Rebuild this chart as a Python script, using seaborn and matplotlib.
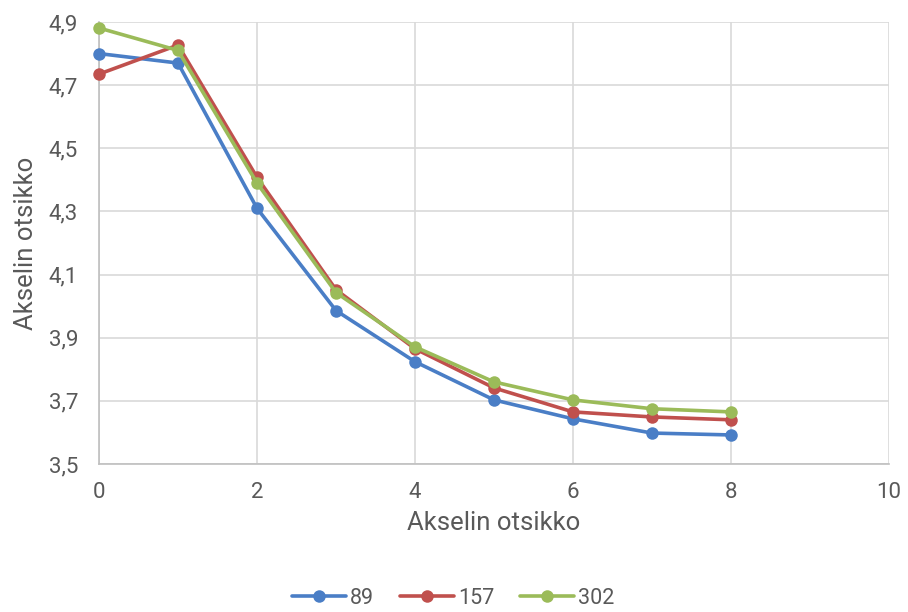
import matplotlib
matplotlib.use("Agg")
import matplotlib.pyplot as plt
from matplotlib.ticker import FuncFormatter
import numpy as np
import pandas as pd
import seaborn as sns

x_vals = [0, 1, 2, 3, 4, 5, 6, 7, 8]
series_names = ["89", "157", "302"]
s89 = [4.80, 4.77, 4.31, 3.986, 3.824, 3.703, 3.643, 3.598, 3.592]
s157 = [4.735, 4.827, 4.408, 4.052, 3.865, 3.741, 3.665, 3.649, 3.640]
s302 = [4.881, 4.81, 4.39, 4.043, 3.871, 3.76, 3.703, 3.675, 3.665]
colors = ["#4A7EC6", "#C0504D", "#9BBB59"]

df = pd.DataFrame({
    "x": x_vals * 3,
    "y": s89 + s157 + s302,
    "series": [n for n in series_names for _ in x_vals],
})

sns.set_theme(style="white")
plt.rcParams["font.family"] = ["Roboto", "DejaVu Sans"]

fig = plt.figure(figsize=(9.08, 6.12), dpi=100)
ax = fig.add_axes([99 / 908, 1 - 464 / 612, 790 / 908, 442 / 612])

sns.lineplot(data=df, x="x", y="y", hue="series", hue_order=series_names,
             palette=colors, marker="o", markersize=9, markeredgewidth=0,
             linewidth=2.6, ax=ax, clip_on=False, zorder=3)

ax.set_xlim(0, 10)
ax.set_ylim(3.5, 4.9)
ax.set_xticks(np.arange(0, 11, 2))
ax.set_yticks(np.arange(3.5, 4.91, 0.2))
ax.yaxis.set_major_formatter(FuncFormatter(lambda v, p: f"{v:.1f}".replace(".", ",")))
ax.grid(True, color="#D9D9D9", linewidth=1.2)
ax.set_axisbelow(True)
for side in ["top", "right"]:
    ax.spines[side].set_visible(False)
for side in ["left", "bottom"]:
    ax.spines[side].set_color("#BFBFBF")
    ax.spines[side].set_linewidth(1.2)
ax.tick_params(axis="both", colors="#595959", labelsize=16, length=0)
ax.tick_params(axis="y", pad=15)
ax.tick_params(axis="x", pad=13)

ax.set_xlabel("Akselin otsikko", fontsize=18.5, color="#595959", labelpad=6)
ax.set_ylabel("Akselin otsikko", fontsize=18.5, color="#595959", labelpad=8)

handles, labels = ax.get_legend_handles_labels()
ax.legend(handles, labels, loc="center",
          bbox_to_anchor=((453 - 99) / 790, (1 - 598 / 612 - (1 - 464 / 612)) / (442 / 612)),
          ncol=3, frameon=False, fontsize=15.5, handlelength=2.5, columnspacing=1.2,
          handletextpad=0.2, labelcolor="#595959")

fig.savefig("out.png", dpi=100)
